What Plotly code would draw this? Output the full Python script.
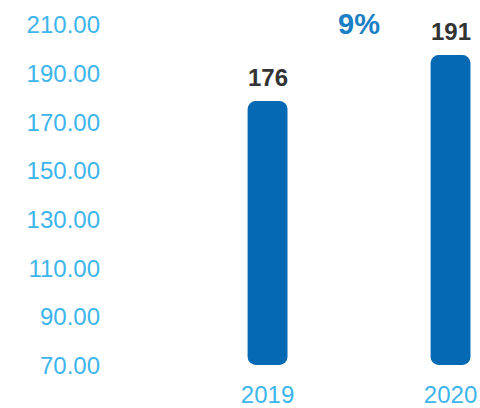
import plotly.graph_objects as go

years = ['2019', '2020']
values = [176, 191]
growth_label = '9%'
y_ticks = [70, 90, 110, 130, 150, 170, 190, 210]
bar_floor = 90  # bars start here on their own (hidden) scale

bar_color = '#0569b3'
tick_color = '#3db5ea'
label_color = '#333333'
growth_color = '#1a80c6'

xs = list(range(len(years)))

fig = go.Figure()
# empty trace so the visible y axis gets drawn
fig.add_trace(go.Scatter(x=[], y=[], yaxis='y', hoverinfo='skip'))
fig.add_trace(go.Bar(x=xs, y=[v - bar_floor for v in values], base=bar_floor,
                     width=0.218, marker=dict(color=bar_color, line_width=0, cornerradius=8),
                     yaxis='y2', hoverinfo='skip'))

for x, v in zip(xs, values):
    fig.add_annotation(x=x, y=v, yref='y2', text=f'<b>{v}</b>', showarrow=False,
                       yanchor='bottom', yshift=8,
                       font=dict(family='Liberation Sans, Arial', size=24, color=label_color))

fig.add_annotation(x=0.5, y=0.963, yref='paper', text=f'<b>{growth_label}</b>', showarrow=False,
                   yanchor='middle',
                   font=dict(family='Liberation Sans, Arial', size=29, color=growth_color))

fig.update_layout(
    width=480, height=408,
    margin=dict(l=110, r=0, t=10, b=33),
    paper_bgcolor='white', plot_bgcolor='white',
    barmode='overlay', showlegend=False,
    font=dict(family='Liberation Sans, Arial', size=24, color=tick_color),
    xaxis=dict(range=[-0.861, 1.161], tickvals=xs, ticktext=years, showgrid=False,
               zeroline=False, showline=False, ticks='', ticklabelstandoff=3, automargin=False),
    yaxis=dict(range=[66.09, 216.17], tickvals=y_ticks, tickformat='.2f', showgrid=False,
               zeroline=False, showline=False, ticks='', ticklabelstandoff=9, automargin=False),
    yaxis2=dict(range=[86.7, 205.7], overlaying='y', visible=False),
)

fig.write_html('out.html', config={'displayModeBar': False},
               post_script="document.body.style.margin='0';")
